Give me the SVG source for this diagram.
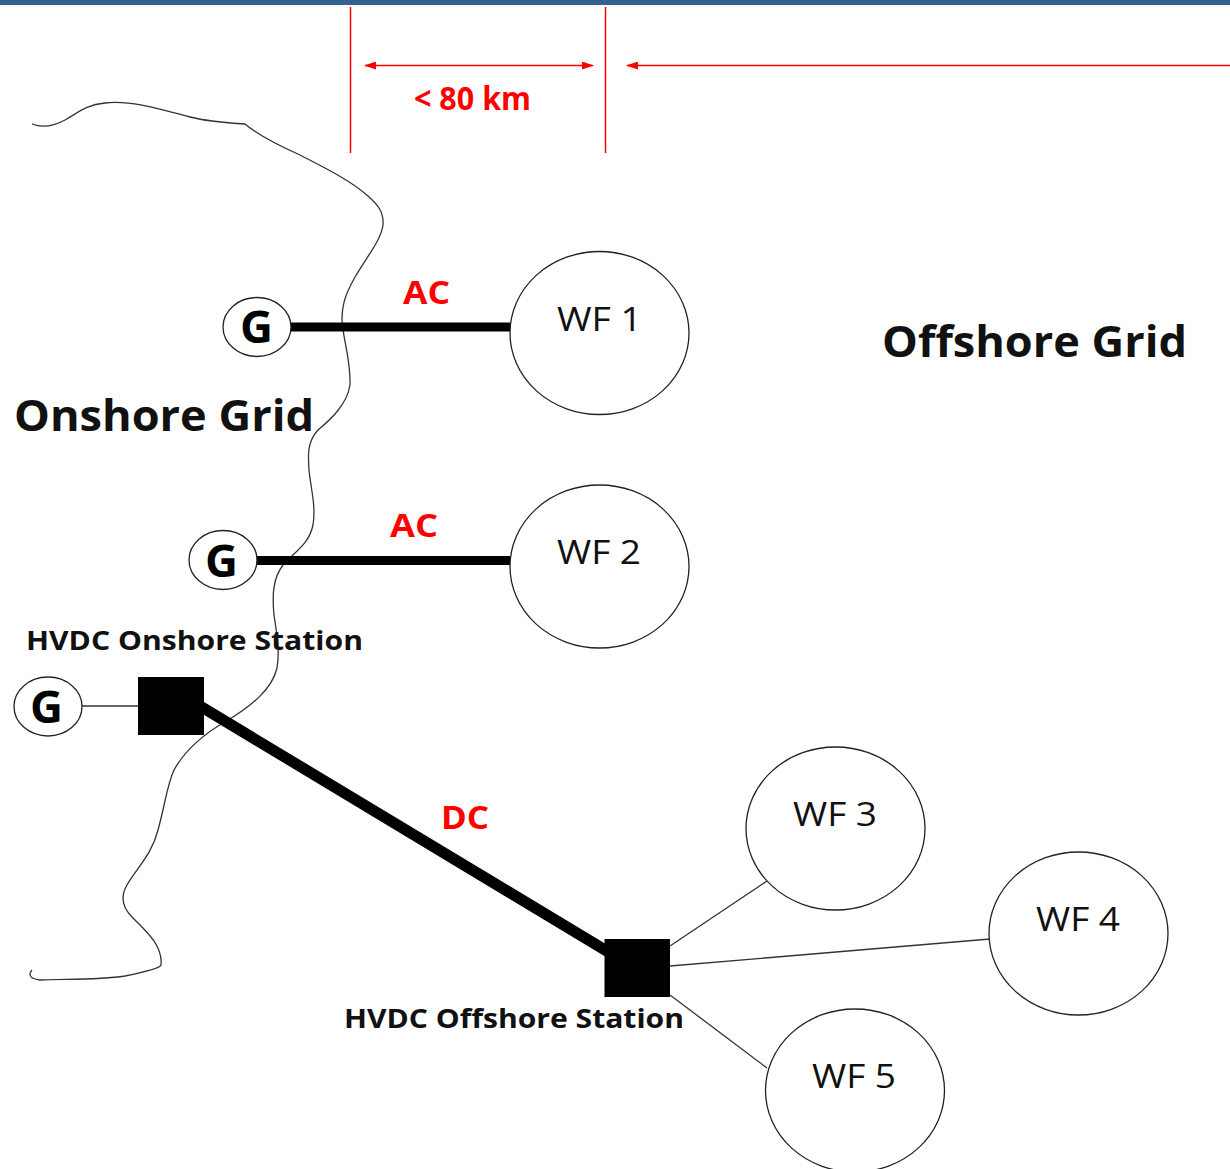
<svg xmlns="http://www.w3.org/2000/svg" width="1230" height="1169" viewBox="0 0 1230 1169">
<style>
text{font-family:"Open Sans","Noto Sans","Liberation Sans",sans-serif;}
.o{fill:#fff;stroke:#222;stroke-width:1.3}
.wf{font-size:32px;fill:#111}
.g{font-size:44px;font-weight:700;fill:#000}
.r{font-weight:700;fill:#f00;font-size:32px}
.h{font-weight:700;fill:#111;font-size:27px}
.b{font-weight:700;fill:#111;font-size:43px}
.thick{stroke:#000;fill:none}
.thin{stroke:#333;stroke-width:1.3;fill:none}
.red{stroke:#f00;stroke-width:1.5;fill:none}
</style>
<defs>
<marker id="a" markerWidth="12" markerHeight="8" refX="11" refY="4" orient="auto-start-reverse" markerUnits="userSpaceOnUse"><path d="M0 0L12 4L0 8Z" fill="#f00"/></marker>
</defs>
<rect width="1230" height="1169" fill="#fff"/>
<rect id="top-bar" width="1230" height="5" fill="#366092"/>
<path id="coast" class="thin" d="M32 124C42 128 52 127 65 120C78 113 85 105 105 103C130 100 160 109 190 117C210 122 230 123 245 124C258 135 280 146 300 155C325 168 350 180 368 196C378 205 384 212 383 225C381 240 368 255 355 277C345 295 342 305 342 320C343 340 351 360 350 385C347 405 330 420 318 430C307 442 308 455 309 470C311 490 316 505 313 525C309 545 293 553 283 565C273 578 272 595 274 615C277 635 280 650 277 668C272 690 250 707 225 722C205 733 185 750 174 770C167 785 165 805 158 830C152 855 135 870 127 885C120 897 122 907 132 917C145 930 163 945 161 965C160 968 140 973 125 976C100 980 70 979 40 980C32 979 27 976 32 970"/>
<g id="connectors">
<path class="thick" stroke-width="9" d="M290 327H510"/>
<path class="thick" stroke-width="9" d="M256 560.500H510"/>
<path class="thick" stroke-width="11" d="M190 700L620 959"/>
<path class="thin" d="M82 706H138"/>
<path class="thin" d="M670 946L767 881"/>
<path class="thin" d="M670 966L990 939"/>
<path class="thin" d="M670 995L767 1068"/>
<path class="red" d="M350.500 7V153"/>
<path class="red" d="M605.500 7V153"/>
<path class="red" d="M365 65.500H593" marker-start="url(#a)" marker-end="url(#a)"/>
<path class="red" d="M627 65.500H1230" marker-start="url(#a)"/>
</g>
<g id="wf1"><ellipse class="o" cx="599.500" cy="333" rx="89.500" ry="81.500"/><text class="wf" x="557" y="331" textLength="85" lengthAdjust="spacingAndGlyphs">WF 1</text></g>
<g id="wf2"><ellipse class="o" cx="599.500" cy="566.500" rx="89.500" ry="81.500"/><text class="wf" x="557" y="564" textLength="84" lengthAdjust="spacingAndGlyphs">WF 2</text></g>
<g id="wf3"><ellipse class="o" cx="835.500" cy="828.500" rx="89.500" ry="81.500"/><text class="wf" x="793" y="826" textLength="84" lengthAdjust="spacingAndGlyphs">WF 3</text></g>
<g id="wf4"><ellipse class="o" cx="1078.500" cy="933.500" rx="89.500" ry="81.500"/><text class="wf" x="1036" y="931" textLength="84" lengthAdjust="spacingAndGlyphs">WF 4</text></g>
<g id="wf5"><ellipse class="o" cx="855" cy="1090.500" rx="89.500" ry="81.500"/><text class="wf" x="812" y="1088" textLength="84" lengthAdjust="spacingAndGlyphs">WF 5</text></g>
<g id="g1"><ellipse class="o" cx="257" cy="327" rx="34" ry="29.500"/><text class="g" x="240" y="343" textLength="33" lengthAdjust="spacingAndGlyphs">G</text></g>
<g id="g2"><ellipse class="o" cx="223" cy="560" rx="34" ry="29.500"/><text class="g" x="205" y="577" textLength="33" lengthAdjust="spacingAndGlyphs">G</text></g>
<g id="g3"><ellipse class="o" cx="48" cy="706.500" rx="34" ry="29.500"/><text class="g" x="30" y="723" textLength="33" lengthAdjust="spacingAndGlyphs">G</text></g>
<g id="onshore-station"><rect x="138" y="677" width="66" height="58" fill="#000"/><text class="h" x="26" y="650" textLength="337" lengthAdjust="spacingAndGlyphs">HVDC Onshore Station</text></g>
<g id="offshore-station"><rect x="604.500" y="939" width="65.500" height="58" fill="#000"/><text class="h" x="344" y="1028" textLength="340" lengthAdjust="spacingAndGlyphs">HVDC Offshore Station</text></g>
<text class="b" x="14" y="431" textLength="300" lengthAdjust="spacingAndGlyphs">Onshore Grid</text>
<text class="b" x="882" y="357" textLength="305" lengthAdjust="spacingAndGlyphs">Offshore Grid</text>
<text class="r" x="414" y="110" textLength="117" lengthAdjust="spacingAndGlyphs">&lt; 80 km</text>
<text class="r" x="403" y="304" textLength="47" lengthAdjust="spacingAndGlyphs">AC</text>
<text class="r" x="390" y="537" textLength="48" lengthAdjust="spacingAndGlyphs">AC</text>
<text class="r" x="441" y="829" textLength="48" lengthAdjust="spacingAndGlyphs">DC</text>
</svg>
